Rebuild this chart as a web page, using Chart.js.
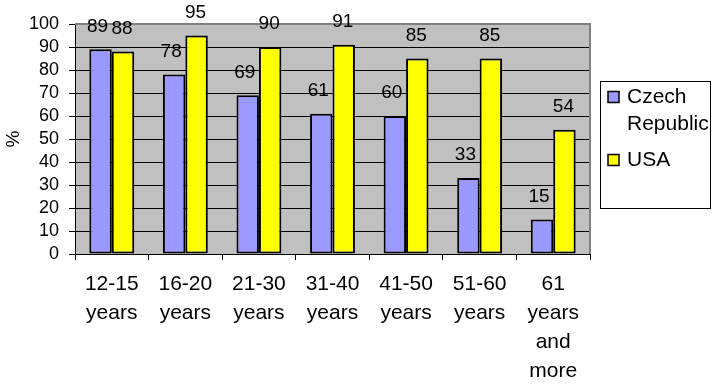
<!DOCTYPE html>
<html>
<head>
<meta charset="utf-8">
<script src="https://cdn.jsdelivr.net/npm/chart.js@4/dist/chart.umd.min.js"></script>
<style>
html,body{margin:0;padding:0;background:#fff;}
#wrap{width:712px;height:385px;position:relative;}
</style>
</head>
<body>
<div id="wrap"><canvas id="c" width="712" height="385"></canvas></div>
<script>
const categories = [
  ['12-15','years'],
  ['16-20','years'],
  ['21-30','years'],
  ['31-40','years'],
  ['41-50','years'],
  ['51-60','years'],
  ['61','years','and','more']
];
const czechValues = [89, 78, 69, 61, 60, 33, 15];
const usaValues = [88, 95, 90, 91, 85, 85, 54];
const seriesNames = [['Czech','Republic'], ['USA']];
const yTicks = [0,10,20,30,40,50,60,70,80,90,100];

const FONT = "'Liberation Sans', Arial, sans-serif";

const plotBg = {
  id: 'plotBg',
  beforeDraw(chart) {
    const {ctx, chartArea: a} = chart;
    ctx.save();
    ctx.fillStyle = '#C0C0C0';
    ctx.fillRect(a.left, a.top, a.right - a.left, a.bottom - a.top);
    ctx.restore();
  },
  afterDatasetsDraw(chart) {
    const {ctx, chartArea: a} = chart;
    ctx.save();
    ctx.strokeStyle = '#808080';
    ctx.lineWidth = 2;
    ctx.beginPath();
    ctx.moveTo(a.left, a.top);
    ctx.lineTo(a.right, a.top);
    ctx.lineTo(a.right, a.bottom);
    ctx.stroke();
    // data labels
    ctx.fillStyle = '#000';
    ctx.font = '19px ' + FONT;
    ctx.textAlign = 'center';
    ctx.textBaseline = 'middle';
    chart.data.datasets.forEach((ds, di) => {
      const meta = chart.getDatasetMeta(di);
      meta.data.forEach((bar, i) => {
        const dx = di === 0 ? -3 : -1;
        ctx.fillText(String(ds.data[i]), bar.x + dx, bar.y - 23);
      });
    });
    ctx.restore();
  },
  afterDraw(chart) {
    const {ctx} = chart;
    ctx.save();
    // legend box
    ctx.strokeStyle = '#000';
    ctx.lineWidth = 1;
    ctx.strokeRect(600.5, 81.5, 110, 127);
    ctx.font = '21px ' + FONT;
    ctx.textBaseline = 'middle';
    ctx.textAlign = 'left';
    let y = 97;
    chart.data.datasets.forEach((ds, di) => {
      ctx.fillStyle = ds.backgroundColor;
      ctx.fillRect(608, y - 5.5, 11, 11);
      ctx.strokeStyle = '#000';
      ctx.lineWidth = 1.5;
      ctx.strokeRect(608, y - 5.5, 11, 11);
      ctx.fillStyle = '#000';
      const lines = seriesNames[di];
      lines.forEach((t, li) => {
        ctx.fillText(t, 627, y + li * 27);
      });
      y += lines.length * 27 + 9;
    });
    ctx.restore();
  }
};

new Chart(document.getElementById('c'), {
  type: 'bar',
  data: {
    labels: categories,
    datasets: [
      { label: 'Czech Republic', data: czechValues, backgroundColor: '#9999FF', borderColor: '#000', borderWidth: 2, borderSkipped: false },
      { label: 'USA', data: usaValues, backgroundColor: '#FFFF00', borderColor: '#000', borderWidth: 2, borderSkipped: false }
    ]
  },
  options: {
    responsive: false,
    animation: false,
    devicePixelRatio: 1,
    layout: { padding: { top: 24, right: 122, left: 0, bottom: 0 } },
    plugins: { legend: { display: false }, tooltip: { enabled: false } },
    datasets: { bar: { categoryPercentage: 0.61, barPercentage: 1.0 } },
    scales: {
      x: {
        afterFit(scale) { scale.height = 131; },
        grid: { display: true, drawOnChartArea: false, color: '#000', tickColor: '#000', tickLength: 6, offset: true },
        border: { display: true, color: '#000', width: 1 },
        ticks: { color: '#000', font: { family: FONT, size: 21, lineHeight: 1.38 }, padding: 10, maxRotation: 0, autoSkip: false }
      },
      y: {
        min: 0, max: 100,
        afterFit(scale) { scale.width = 75; },
        afterBuildTicks(scale) { scale.ticks = yTicks.map(v => ({ value: v })); },
        grid: {
          color: (c) => (c.tick && c.tick.value === 100) ? 'rgba(0,0,0,0)' : '#000',
          tickColor: '#000', tickLength: 6, lineWidth: 1
        },
        border: { display: true, color: '#000', width: 1 },
        ticks: { color: '#000', font: { family: FONT, size: 18 }, padding: 10, autoSkip: false },
        title: { display: true, text: '%', color: '#000', font: { family: FONT, size: 19 }, padding: { top: 2, bottom: 0 } }
      }
    }
  },
  plugins: [plotBg]
});
</script>
</body>
</html>
